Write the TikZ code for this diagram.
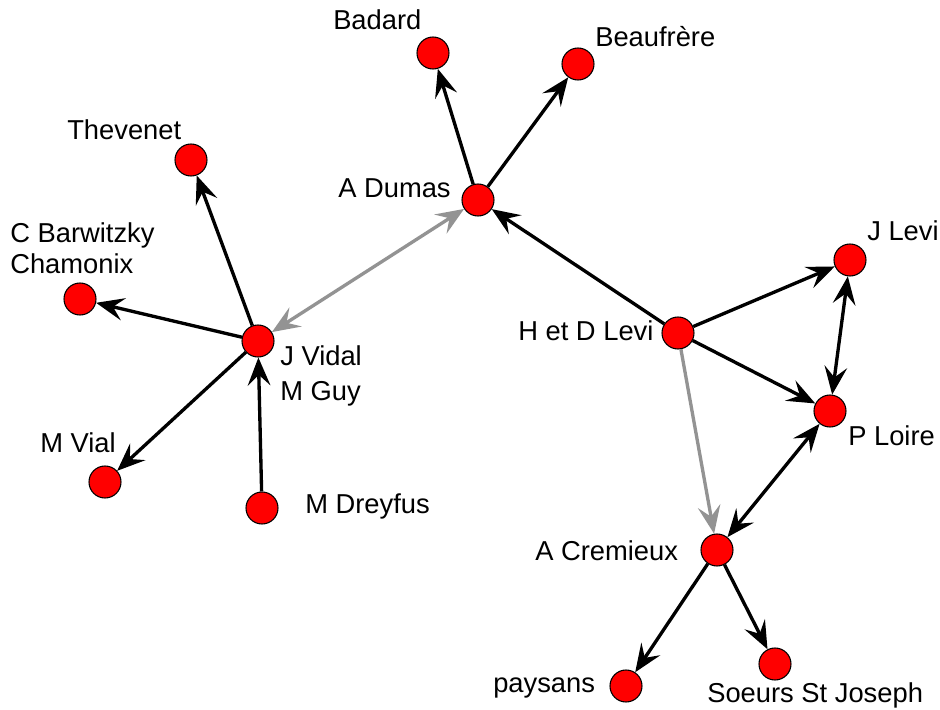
\documentclass[tikz,border=0pt]{standalone}
\usepackage{fontspec}
\setmainfont{Liberation Sans}
\usetikzlibrary{arrows.meta}
\begin{document}
\begin{tikzpicture}[x=0.75pt,y=-0.75pt,
  pers/.style={circle, draw=black, line width=0.8pt, fill=red, minimum size=24pt, inner sep=0pt},
  lbl/.style={font=\fontsize{20.5}{24}\selectfont, inner sep=0pt, anchor=base west},
  rel/.style={line width=2.5pt, -{Stealth[length=21pt,width=17pt,inset=8pt]}},
  both/.style={line width=2.5pt, {Stealth[length=21pt,width=17pt,inset=8pt]}-{Stealth[length=21pt,width=17pt,inset=8pt]}},
  grey/.style={draw=gray!85}]
\useasboundingbox (0,0) rectangle (940,710);
\node[pers] (badard) at (433,53){};
\node[pers] (beaufrere) at (578,64){};
\node[pers] (thevenet) at (191,160){};
\node[pers] (dumas) at (478,200){};
\node[pers] (barwitzky) at (80,299){};
\node[pers] (vidal) at (258,341){};
\node[pers] (hdlevi) at (678,333){};
\node[pers] (jlevi) at (850,260){};
\node[pers] (loire) at (830,411){};
\node[pers] (vial) at (105,482){};
\node[pers] (dreyfus) at (262,508){};
\node[pers] (cremieux) at (717,550){};
\node[pers] (paysans) at (626,686){};
\node[pers] (soeurs) at (775,664){};
% labels
\node[lbl] (tbadard) at (333,30){Badard};
\node[lbl] (tbeaufrere) at (595,47){Beaufrère};
\node[lbl] (tthevenet) at (67,140){Thevenet};
\node[lbl] (tdumas) at (338,198){A Dumas};
\node[lbl] (tbarwitzky1) at (10,243){C Barwitzky};
\node[lbl] (tbarwitzky2) at (10,273){Chamonix};
\node[lbl] (tvidal1) at (280,365){J Vidal};
\node[lbl] (tvidal2) at (280,400){M Guy};
\node[lbl] (thdlevi) at (518,340){H et D Levi};
\node[lbl] (tjlevi) at (867,240){J Levi};
\node[lbl] (tloire) at (848,445){P Loire};
\node[lbl] (tvial) at (40,452){M Vial};
\node[lbl] (tdreyfus) at (305,513){M Dreyfus};
\node[lbl] (tcremieux) at (535,560){A Cremieux};
\node[lbl] (tpaysans) at (493,692){paysans};
\node[lbl] (tsoeurs) at (707,702){Soeurs St Joseph};
% relations
\draw[rel](dumas) -- (badard);
\draw[rel](dumas) -- (beaufrere);
\draw[rel](vidal) -- (thevenet);
\draw[rel](vidal) -- (barwitzky);
\draw[rel](vidal) -- (vial);
\draw[rel](dreyfus) -- (vidal);
\draw[both, grey](vidal) -- (dumas);
\draw[rel](hdlevi) -- (dumas);
\draw[rel](hdlevi) -- (jlevi);
\draw[rel](hdlevi) -- (loire);
\draw[rel, grey](hdlevi) -- (cremieux);
\draw[both](jlevi) -- (loire);
\draw[both](loire) -- (cremieux);
\draw[rel](cremieux) -- (paysans);
\draw[rel](cremieux) -- (soeurs);
\end{tikzpicture}
\end{document}
